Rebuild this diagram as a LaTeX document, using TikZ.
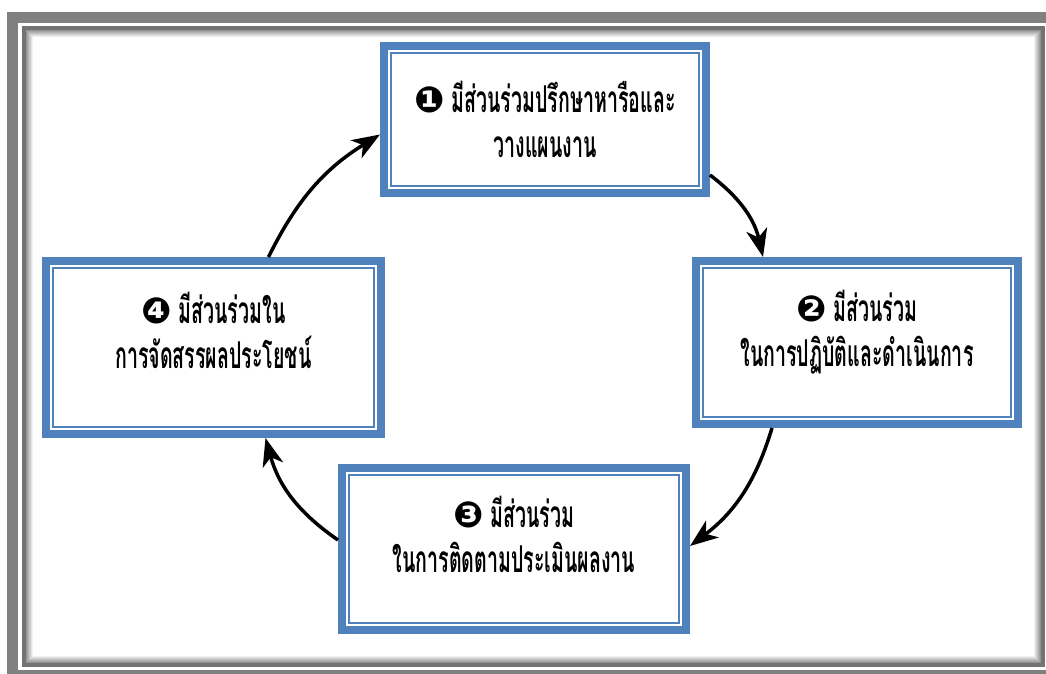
\documentclass[tikz,border=0pt]{standalone}
\usepackage{fontspec}
\usepackage{tikz}
\usetikzlibrary{arrows.meta, positioning}
\newfontfamily\thaifont[Script=Thai,FakeStretch=0.53]{Loma}
\newfontfamily\dingfont{DejaVu Sans}
\newcommand{\stagenum}[1]{{\dingfont\fontsize{36}{36}\selectfont #1}} % black number disc
\definecolor{boxblue}{RGB}{79,129,189}
\definecolor{framegray}{RGB}{128,128,128}
\tikzset{
	x=1pt, y=-1pt, % one unit is one pixel of the page, y runs down
	stage/.style={draw=boxblue, line width=8pt, fill=white}, % the thick blue box
	stagetext/.style={align=center, font=\thaifont\bfseries\fontsize{37}{45}\selectfont}, % the two lines in a box
	flow/.style={-{Stealth[length=28pt, width=21pt, inset=8pt]}, line width=3.5pt, bend left=#1}, % curved arrow between boxes
}

\begin{document}
\begin{tikzpicture}
	\clip (0,0) rectangle (1046,673);
	\fill[white] (0,0) rectangle (1046,673);
	% page frame
	\draw[framegray, line width=11pt] (12.5,17) rectangle (1051.5,675.5);
	\draw[framegray!90!black, line width=4pt] (24,28) rectangle (1043,665);
	\foreach \i in {1,...,8}{
		\pgfmathtruncatemacro{\c}{48-6*\i}
		\draw[line width=1pt, black!\c] (25.5+\i,29.5+\i) rectangle (1041.5-\i,663.5-\i);
	}

	\node[stage, minimum width=322pt, minimum height=147pt] (b1) at (545,119.5) {};
	\node[stage, minimum width=322pt, minimum height=163pt] (b2) at (857,342.5) {};
	\node[stage, minimum width=344pt, minimum height=162pt] (b3) at (514,549) {};
	\node[stage, minimum width=335pt, minimum height=173pt] (b4) at (213.5,347.5) {};
	\foreach \b in {b1,b2,b3,b4}
		\draw[boxblue, line width=2pt] ([shift={(11,11)}]\b.north west) rectangle ([shift={(-11,-11)}]\b.south east);

	\node[stagetext] (t1) at ([yshift=0]b1.center) {\stagenum{❶} มีส่วนร่วมปรึกษาหารือและ\\วางแผนงาน};
	\node[stagetext] (t2) at ([yshift=10]b2.center) {\stagenum{❷} มีส่วนร่วม\\ในการปฏิบัติและดำเนินการ};
	\node[stagetext] (t3) at ([yshift=15]b3.center) {\stagenum{❸} มีส่วนร่วม\\ในการติดตามประเมินผลงาน};
	\node[stagetext] (t4) at ([yshift=17]b4.center) {\stagenum{❹} มีส่วนร่วมใน\\การจัดสรรผลประโยชน์};

	\draw[flow=20] ([yshift=22]b1.south east) to ([xshift=-94]b2.north);
	\draw[flow=18] ([xshift=-85]b2.south) to ([yshift=3]b3.east);
	\draw[flow=20] ([yshift=9]b3.west) to ([xshift=52]b4.south);
	\draw[flow=16] ([xshift=55]b4.north) to ([yshift=-15]b1.west);
\end{tikzpicture}
\end{document}
